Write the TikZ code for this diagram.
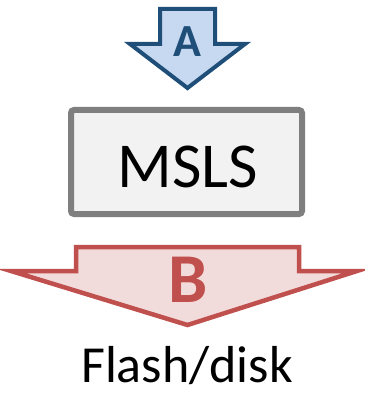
\documentclass[tikz,border=0pt]{standalone}
\usepackage{fontspec}
\setmainfont{Carlito}
\definecolor{bluefill}{HTML}{C6D9F1}
\definecolor{bluedraw}{HTML}{1F4E79}
\definecolor{redfill}{HTML}{F2DCDB}
\definecolor{reddraw}{HTML}{C0504D}
\definecolor{boxfill}{HTML}{F2F2F2}
\definecolor{boxdraw}{HTML}{7F7F7F}
\tikzset{
  arrA/.style={fill=bluefill,draw=bluedraw,line width=4pt,line join=miter},
  arrB/.style={fill=redfill,draw=reddraw,line width=4.5pt,line join=miter},
  boxstyle/.style={fill=boxfill,draw=boxdraw,line width=6pt,rounded corners=3pt},
  lbl/.style={inner sep=0pt,anchor=base},
}
\begin{document}
\begin{tikzpicture}[x=1pt,y=-1pt]
\useasboundingbox (0,0) rectangle (364,393);
% arrow A
\draw[arrA] (160,9) -- (215,9) -- (215,44) -- (245,44) -- (187.5,88) -- (130,44) -- (160,44) -- cycle;
\node[lbl,text=bluedraw] (A) at (187.5,57) {\fontsize{46}{46}\selectfont\bfseries A};
% box
\draw[boxstyle] (71,110) rectangle (302,214);
\node[lbl] (msls) at (187.5,187) {\fontsize{64}{64}\selectfont MSLS};
% arrow B
\draw[arrB] (76,247) -- (299,247) -- (299,271) -- (357,271) -- (187.5,325) -- (11,271) -- (76,271) -- cycle;
\node[lbl,text=reddraw] (B) at (188,302) {\fontsize{70}{70}\selectfont\bfseries B};
\node[lbl] (flash) at (187,382) {\fontsize{52}{52}\selectfont Flash/disk};
\end{tikzpicture}
\end{document}
